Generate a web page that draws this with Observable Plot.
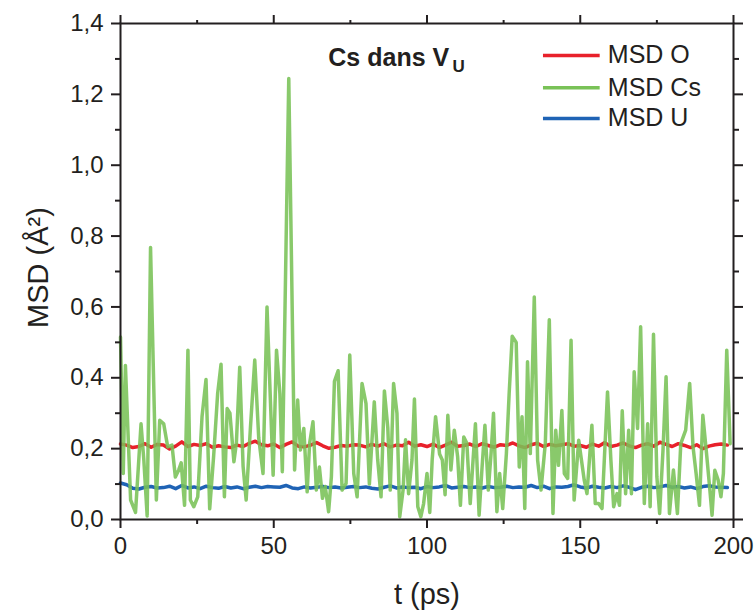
<!DOCTYPE html>
<html><head><meta charset="utf-8">
<script src="https://cdn.jsdelivr.net/npm/d3@7"></script>
<script src="https://cdn.jsdelivr.net/npm/@observablehq/plot@0.6"></script>
<style>
body{margin:0;background:#fff;}
#chart svg{font-family:"Liberation Sans",Arial,sans-serif;}
</style>
</head><body><div id="chart"></div>
<script>
// ---- data ----
const seriesNames = ["MSD O", "MSD Cs", "MSD U"];
const seriesColors = ["#e8212b", "#79c257", "#1f63b5"];

const tCs = [0,0.9,1.6,3.3,4.9,6.7,7.6,8.7,9.8,11.7,12.8,14.1,15.4,16.8,17.9,19.0,19.8,20.9,22.0,22.8,23.9,25.2,26.6,27.9,29.1,30.4,31.7,32.8,33.9,34.8,35.7,37.0,37.8,38.9,40.0,41.0,42.4,43.8,45.1,46.5,47.8,
49.8,50.9,52.0,52.8,54.9,56.8,57.8,58.7,59.8,60.9,61.7,62.8,63.9,64.9,65.9,66.8,67.9,68.8,69.8,71.0,72.3,73.6,74.8,76.1,77.2,78.8,80.1,81.2,82.8,83.9,85.0,86.1,87.2,88.0,89.1,90.2,91.1,92.2,93.0,94.0,95.1,95.9,
97.0,98.0,98.9,100.0,100.9,101.7,102.8,104.1,105.0,105.9,106.8,107.8,108.9,110.0,110.9,112.0,113.0,114.1,115.8,117.0,117.9,118.9,120.0,120.9,121.7,122.8,123.7,124.7,125.9,126.8,127.8,129.1,130.1,131.0,131.9,132.8,133.7,135.0,136.1,137.2,138.6,139.9,141.1,142.0,142.9,144.0,
144.8,145.9,147.0,148.0,149.5,151.3,152.2,153.8,154.9,156.0,157.1,158.9,160.0,160.9,162.0,162.8,163.7,164.8,165.8,166.7,167.6,168.7,169.7,170.9,172.0,172.8,173.9,175.0,175.9,177.0,178.0,179.1,180.4,181.7,182.8,184.4,185.7,186.8,187.8,188.9,190.0,191.3,192.2,193.0,193.9,195.0,195.9,196.7,197.8,198.9];
const msdCs = [0.515,0.13,0.435,0.055,0.02,0.27,0.17,0.01,0.768,0.055,0.28,0.27,0.205,0.21,0.12,0.14,0.16,0.04,0.478,0.055,0.036,0.064,0.29,0.395,0.03,0.18,0.356,0.438,0.064,0.313,0.30,0.163,0.215,0.43,0.15,0.055,0.26,0.45,0.23,0.13,0.60,
0.125,0.478,0.356,0.135,1.245,0.14,0.337,0.196,0.257,0.078,0.215,0.276,0.083,0.148,0.06,0.093,0.022,0.12,0.39,0.42,0.083,0.102,0.464,0.13,0.064,0.384,0.327,0.10,0.332,0.17,0.064,0.363,0.26,0.083,0.384,0.30,0.008,0.083,0.225,0.073,0.168,0.34,
0.036,0.008,0.045,0.13,0.02,0.17,0.29,0.185,0.168,0.07,0.294,0.14,0.252,0.177,0.04,0.233,0.215,0.045,0.27,0.012,0.139,0.266,0.083,0.186,0.30,0.022,0.13,0.031,0.186,0.355,0.517,0.50,0.148,0.29,0.031,0.445,0.186,0.628,0.167,0.083,0.215,0.564,0.017,0.252,0.153,0.308,
0.13,0.116,0.506,0.055,0.224,0.111,0.073,0.266,0.045,0.045,0.031,0.36,0.167,0.036,0.073,0.04,0.307,0.073,0.252,0.073,0.417,0.257,0.544,0.045,0.27,0.036,0.523,0.12,0.017,0.196,0.403,0.017,0.14,0.017,0.214,0.252,0.384,0.205,0.13,0.04,0.294,0.177,0.092,0.012,0.139,0.111,0.064,0.13,0.478,0.214];

// O and U sampled every 2 ps
const tStep = 2;
const msdO = [0.213,0.210,0.203,0.206,0.214,0.204,0.212,0.210,0.199,0.207,0.219,0.206,0.212,0.209,0.214,0.204,0.208,0.205,0.203,0.210,
0.206,0.215,0.221,0.211,0.208,0.213,0.203,0.212,0.219,0.207,0.205,0.210,0.217,0.208,0.201,0.204,0.209,0.207,0.211,0.210,
0.205,0.212,0.207,0.214,0.205,0.210,0.208,0.218,0.207,0.211,0.206,0.213,0.203,0.210,0.218,0.207,0.209,0.213,0.206,0.214,
0.209,0.204,0.211,0.209,0.216,0.208,0.203,0.211,0.215,0.206,0.212,0.208,0.211,0.214,0.207,0.209,0.204,0.213,0.207,0.217,
0.206,0.210,0.216,0.208,0.203,0.210,0.214,0.207,0.218,0.212,0.206,0.214,0.209,0.203,0.211,0.200,0.207,0.211,0.213,0.210];
const msdU = [0.103,0.098,0.088,0.086,0.091,0.093,0.089,0.090,0.094,0.087,0.096,0.089,0.092,0.087,0.094,0.090,0.088,0.093,0.089,0.092,
0.087,0.091,0.094,0.090,0.093,0.092,0.091,0.096,0.089,0.087,0.092,0.089,0.091,0.093,0.090,0.092,0.089,0.091,0.093,0.090,
0.092,0.088,0.086,0.091,0.095,0.089,0.092,0.090,0.091,0.087,0.093,0.090,0.092,0.096,0.089,0.091,0.093,0.090,0.092,0.089,
0.093,0.090,0.091,0.094,0.090,0.092,0.091,0.096,0.090,0.094,0.087,0.092,0.091,0.093,0.098,0.092,0.089,0.094,0.091,0.089,
0.093,0.090,0.095,0.091,0.084,0.091,0.094,0.090,0.092,0.096,0.091,0.093,0.089,0.092,0.087,0.093,0.095,0.092,0.091,0.090];

const xMajor = [0, 50, 100, 150, 200];
const xMinor = [25, 75, 125, 175];
const yMajor = [0, 0.2, 0.4, 0.6, 0.8, 1.0, 1.2, 1.4];
const yMinor = [0.1, 0.3, 0.5, 0.7, 0.9, 1.1, 1.3];

const xLabel = "t (ps)";
const yLabel = "MSD (Å²)";
const titleMain = "Cs dans V";
const titleSub = "U";

// ---- build tables ----
const dataCs = tCs.map((t, i) => ({t, v: msdCs[i]}));
const dataO = msdO.map((v, i) => ({t: i * tStep, v}));
const dataU = msdU.map((v, i) => ({t: i * tStep, v}));

// legend positions in data units
const legendX1 = 138, legendX2 = 156.5, legendTextX = 159;
const legendY = [1.310, 1.219, 1.132];
const legend = seriesNames.map((name, i) => ({name, color: seriesColors[i], y: legendY[i]}));

const fmt = d => d.toFixed(1).replace(".", ",");
const ink = "#231f20";

const chart = Plot.plot({
  width: 755,
  height: 610,
  marginLeft: 120,
  marginRight: 22,
  marginTop: 23,
  marginBottom: 91,
  x: {domain: [0, 200]},
  y: {domain: [0, 1.4]},
  style: {fontFamily: "'Liberation Sans', Arial, sans-serif", color: ink, background: "#fff"},
  marks: [
    Plot.line(dataO, {x: "t", y: "v", stroke: seriesColors[0], strokeWidth: 3.5}),
    Plot.line(dataU, {x: "t", y: "v", stroke: seriesColors[2], strokeWidth: 3.5}),
    Plot.line(dataCs, {x: "t", y: "v", stroke: seriesColors[1], strokeWidth: 3.5, strokeOpacity: 0.88}),
    Plot.frame({stroke: ink, strokeWidth: 2}),
    // left axis
    Plot.axisY({anchor: "left", ticks: yMajor, tickSize: 9, tickPadding: 8, tickFormat: fmt, fontSize: 24, label: null, strokeWidth: 2, color: ink}),
    Plot.axisY({anchor: "left", ticks: yMinor, tickSize: 5, tickFormat: () => "", label: null, strokeWidth: 2}),
    // right axis
    Plot.axisY({anchor: "right", ticks: yMajor, tickSize: 9, tickFormat: () => "", label: null, strokeWidth: 2}),
    Plot.axisY({anchor: "right", ticks: yMinor, tickSize: 5, tickFormat: () => "", label: null, strokeWidth: 2}),
    // bottom axis
    Plot.axisX({anchor: "bottom", ticks: xMajor, tickSize: 9, tickPadding: 8, tickFormat: d => String(d), fontSize: 24, label: null, strokeWidth: 2}),
    Plot.axisX({anchor: "bottom", ticks: xMinor, tickSize: 5, tickFormat: () => "", label: null, strokeWidth: 2}),
    // top axis
    Plot.axisX({anchor: "top", ticks: xMajor, tickSize: 9, tickFormat: () => "", label: null, strokeWidth: 2}),
    Plot.axisX({anchor: "top", ticks: xMinor, tickSize: 4, tickFormat: () => "", label: null, strokeWidth: 2}),
    // axis titles
    Plot.text([yLabel], {text: d => d, frameAnchor: "left", textAnchor: "middle", dx: -82, dy: -4, rotate: -90, fontSize: 29, fill: ink}),
    Plot.text([xLabel], {text: d => d, frameAnchor: "bottom", textAnchor: "middle", dy: 84, fontSize: 29, fill: ink}),
    // title
    Plot.text([titleMain], {text: d => d, x: 67.8, y: 1.302, textAnchor: "start", fontSize: 25, fontWeight: "bold", fill: ink}),
    Plot.text([titleSub], {text: d => d, x: 108.3, y: 1.279, textAnchor: "start", fontSize: 17, fontWeight: "bold", fill: ink}),
    // legend
    Plot.ruleY(legend, {y: "y", x1: legendX1, x2: legendX2, stroke: "color", strokeWidth: 3.5}),
    Plot.text(legend, {x: legendTextX, y: "y", text: "name", textAnchor: "start", fontSize: 25, fill: ink})
  ]
});
document.getElementById("chart").appendChild(chart);
</script>
</body></html>
